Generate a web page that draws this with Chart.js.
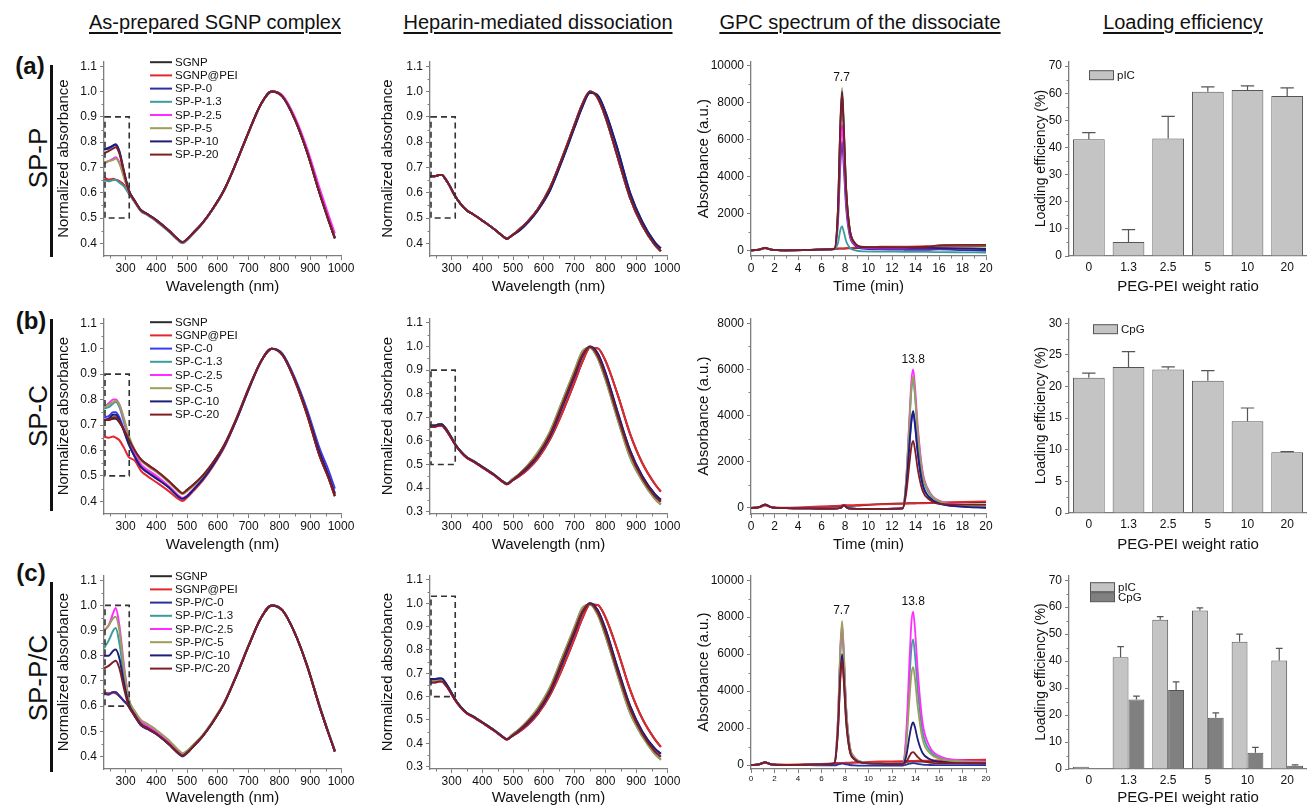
<!DOCTYPE html>
<html><head><meta charset="utf-8">
<script src="https://cdn.jsdelivr.net/npm/chart.js@4.4.1/dist/chart.umd.min.js"></script>
<style>
html,body{margin:0;padding:0;background:#fff;width:1308px;height:808px;overflow:hidden;font-family:"Liberation Sans",Arial,Helvetica,sans-serif;}
canvas{position:absolute;}
.t{position:absolute;color:#111;white-space:nowrap;line-height:1;}
.col{font-size:20px;text-decoration:underline;text-decoration-thickness:1.5px;text-underline-offset:3px;top:12px;transform:translateX(-50%);}
.lab{font-size:24px;font-weight:bold;transform:translate(-50%,-50%);}
.rot{font-size:26px;transform:translate(-50%,-50%) rotate(-90deg);}
.vbar{position:absolute;width:3px;background:#111;}
</style></head><body>
<div class="t col" style="left:215px">As-prepared SGNP complex</div>
<div class="t col" style="left:538px">Heparin-mediated dissociation</div>
<div class="t col" style="left:860px">GPC spectrum of the dissociate</div>
<div class="t col" style="left:1183px">Loading efficiency</div>
<div class="t lab" style="left:30px;top:66px">(a)</div>
<div class="t lab" style="left:31px;top:321px">(b)</div>
<div class="t lab" style="left:31px;top:573px">(c)</div>
<div class="t rot" style="left:38px;top:158px">SP-P</div>
<div class="t rot" style="left:38px;top:416px">SP-C</div>
<div class="t rot" style="left:38px;top:678px">SP-P/C</div>
<div class="vbar" style="left:50px;top:65px;height:192px"></div>
<div class="vbar" style="left:50px;top:319px;height:192px"></div>
<div class="vbar" style="left:50px;top:582px;height:190px"></div>
<script>
// ---------------- DATA ----------------
const namesA = ['SGNP','SGNP@PEI','SP-P-0','SP-P-1.3','SP-P-2.5','SP-P-5','SP-P-10','SP-P-20'];
const namesB = ['SGNP','SGNP@PEI','SP-C-0','SP-C-1.3','SP-C-2.5','SP-C-5','SP-C-10','SP-C-20'];
const namesC = ['SGNP','SGNP@PEI','SP-P/C-0','SP-P/C-1.3','SP-P/C-2.5','SP-P/C-5','SP-P/C-10','SP-P/C-20'];

// wavelength grid (nm) of the as-prepared spectra
const wlPrep = [230,245,260,268,280,295,310,330,350,370,400,440,470,485,500,520,550,580,620,660,700,740,775,810,850,890,930,960,980];
// row (a) as-prepared
const prepA_SGNP = [0.65,0.65,0.65,0.65,0.645,0.63,0.6,0.565,0.53,0.515,0.49,0.45,0.415,0.403,0.415,0.44,0.48,0.53,0.61,0.72,0.84,0.95,1.0,0.98,0.89,0.76,0.6,0.49,0.42];
const prepA_PEI  = [0.662,0.652,0.655,0.652,0.645,0.63,0.6,0.565,0.53,0.515,0.49,0.45,0.415,0.403,0.415,0.44,0.48,0.53,0.61,0.72,0.84,0.95,1.0,0.98,0.89,0.76,0.6,0.49,0.42];
const prepA_0    = [0.77,0.775,0.785,0.79,0.76,0.68,0.612,0.568,0.532,0.517,0.492,0.452,0.417,0.405,0.417,0.442,0.481,0.531,0.611,0.721,0.841,0.951,1.0,0.981,0.892,0.762,0.602,0.492,0.422];
const prepA_13   = [0.65,0.645,0.65,0.65,0.64,0.625,0.598,0.562,0.527,0.512,0.487,0.447,0.412,0.4,0.412,0.438,0.478,0.528,0.608,0.718,0.838,0.948,1.0,0.98,0.89,0.76,0.6,0.49,0.42];
const prepA_25   = [0.715,0.725,0.735,0.74,0.72,0.665,0.605,0.565,0.53,0.515,0.49,0.45,0.415,0.403,0.415,0.44,0.48,0.53,0.61,0.72,0.84,0.95,1.0,0.985,0.9,0.775,0.62,0.51,0.44];
const prepA_5    = [0.72,0.725,0.73,0.735,0.715,0.66,0.605,0.566,0.531,0.516,0.491,0.451,0.416,0.404,0.416,0.44,0.48,0.53,0.61,0.72,0.84,0.95,1.0,0.98,0.89,0.76,0.6,0.49,0.425];
const prepA_10   = [0.772,0.778,0.787,0.792,0.765,0.685,0.612,0.568,0.532,0.517,0.492,0.452,0.417,0.405,0.417,0.442,0.481,0.531,0.611,0.721,0.841,0.951,1.0,0.98,0.89,0.76,0.6,0.49,0.42];
const prepA_20   = [0.755,0.765,0.775,0.78,0.755,0.68,0.61,0.567,0.531,0.516,0.491,0.451,0.416,0.404,0.416,0.441,0.48,0.53,0.61,0.72,0.84,0.95,1.0,0.98,0.89,0.76,0.6,0.49,0.42];
// row (b) as-prepared
const prepB_SGNP = [0.72,0.72,0.725,0.725,0.71,0.68,0.645,0.6,0.565,0.545,0.52,0.48,0.445,0.432,0.445,0.465,0.5,0.545,0.62,0.725,0.845,0.95,1.0,0.975,0.875,0.74,0.58,0.49,0.42];
const prepB_PEI  = [0.655,0.65,0.655,0.65,0.64,0.61,0.575,0.56,0.52,0.5,0.475,0.44,0.41,0.401,0.415,0.44,0.48,0.53,0.61,0.72,0.84,0.95,1.0,0.975,0.875,0.74,0.58,0.49,0.42];
const prepB_0    = [0.73,0.735,0.75,0.75,0.73,0.68,0.63,0.575,0.535,0.515,0.49,0.455,0.42,0.41,0.42,0.445,0.485,0.535,0.615,0.72,0.84,0.95,1.0,0.98,0.885,0.76,0.61,0.52,0.45];
const prepB_13   = [0.765,0.77,0.785,0.79,0.77,0.71,0.645,0.585,0.54,0.52,0.495,0.457,0.422,0.411,0.421,0.446,0.485,0.535,0.615,0.72,0.84,0.95,1.0,0.975,0.88,0.75,0.595,0.5,0.43];
const prepB_25   = [0.77,0.785,0.8,0.8,0.78,0.72,0.65,0.59,0.545,0.525,0.5,0.46,0.425,0.413,0.423,0.447,0.486,0.536,0.615,0.72,0.84,0.95,1.0,0.975,0.88,0.75,0.595,0.5,0.43];
const prepB_5    = [0.77,0.78,0.79,0.795,0.78,0.725,0.66,0.6,0.56,0.54,0.515,0.475,0.44,0.428,0.44,0.46,0.495,0.54,0.618,0.722,0.842,0.95,1.0,0.975,0.878,0.745,0.588,0.495,0.425];
const prepB_10   = [0.72,0.725,0.74,0.74,0.72,0.675,0.625,0.575,0.535,0.515,0.49,0.455,0.42,0.41,0.42,0.445,0.485,0.535,0.615,0.72,0.84,0.95,1.0,0.978,0.88,0.75,0.595,0.5,0.43];
const prepB_20   = [0.72,0.72,0.73,0.73,0.715,0.68,0.645,0.6,0.565,0.545,0.52,0.48,0.445,0.432,0.445,0.465,0.5,0.545,0.62,0.725,0.845,0.95,1.0,0.975,0.875,0.74,0.58,0.49,0.42];
// row (c) as-prepared
const prepC_SGNP = [0.65,0.65,0.655,0.655,0.64,0.62,0.6,0.56,0.525,0.51,0.49,0.45,0.415,0.403,0.415,0.44,0.48,0.53,0.61,0.72,0.84,0.95,1.0,0.98,0.89,0.76,0.6,0.49,0.42];
const prepC_PEI  = [0.655,0.65,0.655,0.65,0.64,0.62,0.6,0.56,0.525,0.51,0.49,0.45,0.415,0.403,0.415,0.44,0.48,0.53,0.61,0.72,0.84,0.95,1.0,0.98,0.89,0.76,0.6,0.49,0.42];
const prepC_0    = [0.65,0.645,0.655,0.655,0.64,0.62,0.6,0.56,0.524,0.509,0.488,0.448,0.413,0.4,0.413,0.44,0.48,0.53,0.61,0.72,0.84,0.95,1.0,0.98,0.89,0.76,0.6,0.49,0.42];
const prepC_13   = [0.83,0.86,0.9,0.91,0.85,0.72,0.62,0.57,0.535,0.52,0.495,0.455,0.42,0.408,0.418,0.443,0.482,0.532,0.612,0.722,0.842,0.95,1.0,0.98,0.89,0.762,0.605,0.495,0.425];
const prepC_25   = [0.9,0.92,0.97,0.99,0.92,0.76,0.63,0.575,0.54,0.522,0.497,0.457,0.421,0.409,0.419,0.444,0.483,0.533,0.612,0.722,0.842,0.95,1.0,0.98,0.89,0.76,0.6,0.49,0.42];
const prepC_5    = [0.9,0.92,0.95,0.955,0.9,0.75,0.63,0.58,0.545,0.53,0.505,0.465,0.428,0.413,0.423,0.447,0.485,0.535,0.614,0.723,0.843,0.95,1.0,0.98,0.89,0.76,0.6,0.49,0.42];
const prepC_10   = [0.8,0.8,0.82,0.825,0.79,0.69,0.61,0.565,0.528,0.513,0.49,0.45,0.415,0.403,0.415,0.44,0.48,0.53,0.61,0.72,0.84,0.95,1.0,0.98,0.89,0.76,0.6,0.49,0.42];
const prepC_20   = [0.75,0.76,0.775,0.78,0.75,0.67,0.6,0.562,0.527,0.512,0.49,0.45,0.415,0.403,0.415,0.44,0.48,0.53,0.61,0.72,0.84,0.95,1.0,0.98,0.89,0.76,0.6,0.49,0.42];

// wavelength grid (nm) of the heparin-treated spectra
const wlHep = [230,245,260,268,280,295,310,330,350,370,400,440,470,480,495,520,550,580,620,660,700,725,750,775,800,840,880,920,960,980];
const hepA_mid   = [0.665,0.665,0.67,0.67,0.655,0.625,0.59,0.555,0.53,0.515,0.49,0.455,0.425,0.418,0.43,0.455,0.49,0.535,0.62,0.74,0.87,0.95,1.0,0.975,0.9,0.74,0.58,0.47,0.395,0.37];
const hepA_right = [0.665,0.665,0.67,0.67,0.655,0.625,0.59,0.555,0.53,0.515,0.49,0.455,0.425,0.418,0.43,0.45,0.485,0.53,0.61,0.73,0.86,0.94,0.995,0.985,0.92,0.77,0.6,0.485,0.405,0.38];
const hepB_760   = [0.66,0.66,0.665,0.665,0.65,0.62,0.588,0.553,0.528,0.513,0.488,0.453,0.423,0.416,0.43,0.45,0.482,0.525,0.607,0.72,0.85,0.935,0.995,0.992,0.94,0.795,0.63,0.505,0.418,0.385];
const hepB_745   = [0.665,0.665,0.67,0.67,0.655,0.625,0.59,0.555,0.53,0.515,0.49,0.455,0.425,0.418,0.43,0.455,0.49,0.535,0.62,0.745,0.875,0.96,1.0,0.97,0.89,0.72,0.56,0.45,0.375,0.35];
const hepB_740   = [0.66,0.66,0.665,0.665,0.65,0.622,0.588,0.553,0.528,0.513,0.488,0.453,0.423,0.416,0.43,0.457,0.495,0.54,0.628,0.755,0.885,0.965,0.998,0.96,0.875,0.705,0.548,0.44,0.366,0.342];
const hepB_735   = [0.665,0.665,0.67,0.67,0.655,0.625,0.59,0.555,0.53,0.515,0.49,0.455,0.425,0.418,0.435,0.46,0.5,0.55,0.64,0.77,0.9,0.98,0.995,0.95,0.86,0.69,0.53,0.43,0.355,0.33];
const hepC_760   = [0.665,0.665,0.67,0.67,0.655,0.622,0.59,0.553,0.528,0.513,0.488,0.453,0.423,0.416,0.43,0.45,0.482,0.525,0.607,0.72,0.85,0.935,0.995,0.992,0.94,0.795,0.63,0.505,0.418,0.385];
const hepC_745   = [0.675,0.675,0.678,0.678,0.66,0.628,0.592,0.556,0.53,0.515,0.49,0.455,0.425,0.418,0.43,0.455,0.49,0.535,0.62,0.745,0.875,0.96,1.0,0.97,0.89,0.72,0.56,0.45,0.378,0.355];
const hepC_740   = [0.66,0.66,0.665,0.665,0.65,0.622,0.588,0.553,0.528,0.513,0.488,0.453,0.423,0.416,0.43,0.457,0.495,0.54,0.628,0.755,0.885,0.965,0.998,0.96,0.875,0.705,0.548,0.44,0.366,0.342];
const hepC_735   = [0.665,0.665,0.67,0.67,0.655,0.625,0.59,0.555,0.53,0.515,0.49,0.455,0.425,0.418,0.435,0.46,0.5,0.55,0.64,0.77,0.9,0.98,0.995,0.95,0.86,0.69,0.53,0.43,0.355,0.33];

// GPC time grids (min) and traces
const tA = [0,0.7,1.2,1.7,3,5,6.5,7.1,7.4,7.6,7.75,7.9,8.1,8.4,8.8,9.5,11,13,15,16,18,20];
const gpcA_SGNP = [0,40,130,40,10,30,60,80,90,100,100,100,110,120,130,140,160,170,180,200,210,220];
const gpcA_PEI  = [0,40,120,40,10,30,70,100,110,110,110,110,120,130,150,180,200,210,230,260,280,280];
const gpcA_0    = [0,50,140,50,10,30,50,80,1500,4600,5900,4500,2300,800,300,100,60,40,30,60,20,-20];
const gpcA_13   = [0,50,140,50,10,30,50,60,400,1100,1300,1000,500,150,20,-50,-60,-70,-80,-90,-100,-110];
const gpcA_25   = [0,50,140,50,10,30,50,80,1800,5300,6800,5200,2700,950,350,150,120,110,110,120,100,80];
const gpcA_5    = [0,50,150,50,10,30,60,90,2300,6900,8800,6800,3400,1200,450,200,180,190,200,260,270,270];
const gpcA_10   = [0,50,140,50,10,30,60,90,2200,6700,8600,6600,3300,1150,420,180,160,150,140,130,100,80];
const gpcA_20   = [0,50,140,50,10,30,60,90,2200,6600,8500,6500,3300,1150,430,190,180,180,200,280,300,300];
const tB = [0,0.7,1.2,1.7,3,5,7,7.6,7.9,8.3,9,11,12.9,13.2,13.5,13.65,13.8,13.95,14.2,14.6,15.2,16,18,20];
const gpcB_SGNP = [0,40,150,40,0,20,60,80,120,90,100,170,200,200,210,210,210,210,215,220,225,230,240,250];
const gpcB_PEI  = [0,30,100,40,20,50,90,100,130,120,130,160,180,185,190,190,195,195,200,205,215,230,260,290];
const gpcB_0    = [0,40,140,40,-10,-20,-30,0,110,-20,-40,-40,-20,800,2800,3700,4100,3600,2300,1000,450,200,60,20];
const gpcB_13   = [0,40,140,40,-10,-20,-30,0,100,-20,-40,-40,-20,1100,3800,5100,5600,4900,3200,1400,600,270,100,60];
const gpcB_25   = [0,40,140,40,-10,-20,-30,0,100,-20,-40,-40,-20,1200,4100,5500,6000,5300,3500,1600,700,320,140,100];
const gpcB_5    = [0,40,140,40,-10,-20,-30,0,100,-20,-40,-40,-20,1150,3900,5200,5700,5000,3300,1500,650,300,120,80];
const gpcB_10   = [0,40,150,40,-10,-20,-30,0,110,-20,-40,-40,-20,850,2900,3800,4200,3700,2400,1050,450,200,60,10];
const gpcB_20   = [0,40,140,40,-10,-20,-30,0,100,-20,-40,-40,-20,600,2000,2650,2900,2550,1650,750,350,180,150,150];
const tC = [0,0.7,1.2,1.7,3,5,6.8,7.1,7.4,7.6,7.75,7.9,8.1,8.4,8.8,9.5,11,12.9,13.2,13.5,13.65,13.8,13.95,14.2,14.6,15.2,16,18,20];
const gpcC_SGNP = [0,40,150,40,10,30,60,80,90,100,100,100,110,120,130,140,160,170,175,180,180,180,180,185,190,195,200,210,220];
const gpcC_PEI  = [0,40,120,40,20,50,90,110,120,120,120,120,125,130,140,160,190,210,215,220,220,220,225,230,235,240,250,270,290];
const gpcC_0    = [0,40,140,40,0,-10,-20,-20,20,60,80,60,30,0,-20,-30,-30,-30,20,70,90,100,90,60,20,0,-10,-10,-10];
const gpcC_13   = [0,40,140,40,0,20,50,100,2400,6000,7400,5800,3000,1000,400,150,80,60,1300,4800,6300,6800,6000,4000,1800,800,400,200,150];
const gpcC_25   = [0,40,140,40,0,20,50,100,2500,6200,7600,6000,3100,1050,420,160,100,80,1600,5800,7700,8300,7400,5000,2300,1000,500,250,200];
const gpcC_5    = [0,40,140,40,0,20,50,100,2500,6300,7800,6100,3100,1050,420,160,100,80,1000,3700,4900,5300,4700,3100,1400,650,350,200,150];
const gpcC_10   = [0,40,140,40,0,20,50,90,1900,4800,6000,4700,2400,800,320,120,70,50,450,1600,2100,2300,2050,1350,650,320,170,100,80];
const gpcC_20   = [0,40,140,40,0,20,50,90,1800,4600,5700,4500,2300,770,300,120,70,50,150,500,650,700,620,420,220,130,100,100,100];
// peak labels (min) and their heights
const peakTimesA = [7.7];       const peakTopsA = [8800];
const peakTimesB = [13.8];      const peakTopsB = [6000];
const peakTimesC = [7.7, 13.8]; const peakTopsC = [7800, 8300];

// loading efficiency (%)
const ratios = ['0','1.3','2.5','5','10','20'];
const leA_pIC = [43.0, 5.2, 43.3, 60.5, 61.2, 59.0];
const leA_pIC_err = [2.5, 4.5, 8.2, 1.8, 1.5, 3.0];
const leB_CpG = [21.4, 23.1, 22.7, 20.9, 14.5, 9.6];
const leB_CpG_err = [0.7, 2.4, 0.4, 1.6, 2.1, 0.1];
const leC_pIC = [0.8, 41.4, 55.3, 58.8, 47.2, 40.2];
const leC_pIC_err = [0, 4.0, 1.2, 0.9, 2.8, 4.5];
const leC_CpG = [0.3, 25.8, 29.3, 19.0, 6.0, 1.2];
const leC_CpG_err = [0, 1.2, 3.0, 1.8, 2.0, 0.3];

// tick values
const wlTicks = [300,400,500,600,700,800,900,1000];
const wlMinor = [250,350,450,550,650,750,850,950];
const absTicks04 = [0.4,0.5,0.6,0.7,0.8,0.9,1.0,1.1];
const absTicks03 = [0.3,0.4,0.5,0.6,0.7,0.8,0.9,1.0,1.1];
const absMinor = [0.45,0.55,0.65,0.75,0.85,0.95,1.05];
const absMinor03 = [0.35,0.45,0.55,0.65,0.75,0.85,0.95,1.05];
const timeTicks = [0,2,4,6,8,10,12,14,16,18,20];
const timeMinor = [1,3,5,7,9,11,13,15,17,19];
const gpcTicks10k = [0,2000,4000,6000,8000,10000];
const gpcMinor10k = [1000,3000,5000,7000,9000];
const gpcTicks8k = [0,2000,4000,6000,8000];
const gpcMinor8k = [1000,3000,5000,7000];
const leTicks70 = [0,10,20,30,40,50,60,70];
const leMinor70 = [5,15,25,35,45,55,65];
const leTicks30 = [0,5,10,15,20,25,30];
const leMinor30 = [2.5,7.5,12.5,17.5,22.5,27.5];

// ---------------- STYLE ----------------
const FONT = '"Liberation Sans", Arial, Helvetica, sans-serif';
const AX = '#7d7d7d';
const INK = '#111';
const colorsA = ['#2b2b2b','#e5262c','#2b2f9e','#3a9d9d','#ff2dff','#9d9d5c','#1d1d7a','#7f1e22'];
const colorsB = ['#2b2b2b','#e5262c','#3a3af0','#3a9d9d','#ff2dff','#9d9d5c','#1d1d7a','#7f1e22'];
const pICfill = '#c4c4c4', CpGfill = '#808080', barEdge = '#555';

Chart.defaults.font.family = FONT;
Chart.defaults.color = INK;

function overlay(o) {
  return { id: 'ov', afterDatasetsDraw(chart) {
    const ctx = chart.ctx, a = chart.chartArea, sx = chart.scales.x, sy = chart.scales.y;
    ctx.save();
    ctx.strokeStyle = AX; ctx.lineWidth = 1;
    (o.minorX || []).forEach(v => { const p = Math.round(sx.getPixelForValue(v)) + 0.5;
      ctx.beginPath(); ctx.moveTo(p, a.bottom); ctx.lineTo(p, a.bottom + 2.5); ctx.stroke(); });
    (o.minorY || []).forEach(v => { const p = Math.round(sy.getPixelForValue(v)) + 0.5;
      ctx.beginPath(); ctx.moveTo(a.left, p); ctx.lineTo(a.left - 2.5, p); ctx.stroke(); });
    if (o.box) {
      const x0 = sx.getPixelForValue(o.box[0]), x1 = sx.getPixelForValue(o.box[1]);
      const y0 = sy.getPixelForValue(o.box[2]), y1 = sy.getPixelForValue(o.box[3]);
      ctx.setLineDash([6, 4]); ctx.strokeStyle = '#333'; ctx.lineWidth = 1.6;
      ctx.strokeRect(x0 + 1, y1, x1 - x0 - 1, y0 - y1);
      ctx.setLineDash([]);
    }
    if (o.legend) {
      ctx.font = '11.5px ' + FONT; ctx.textBaseline = 'middle'; ctx.textAlign = 'left';
      chart.data.datasets.forEach((d, i) => {
        const x = a.left + o.legend.dx, y = a.top + o.legend.dy + i * 13.2;
        ctx.strokeStyle = d.borderColor; ctx.lineWidth = 2;
        ctx.beginPath(); ctx.moveTo(x, y); ctx.lineTo(x + 22, y); ctx.stroke();
        ctx.fillStyle = INK; ctx.fillText(d.label, x + 25, y + 0.5);
      });
    }
    if (o.peaks) {
      ctx.font = '12px ' + FONT; ctx.textAlign = 'center'; ctx.textBaseline = 'bottom'; ctx.fillStyle = INK;
      o.peaks.t.forEach((t, i) => ctx.fillText(t.toFixed(1), sx.getPixelForValue(t), sy.getPixelForValue(o.peaks.h[i]) - 4));
    }
    if (o.errors) {
      ctx.strokeStyle = barEdge; ctx.lineWidth = 1.2;
      o.errors.forEach((errs, di) => {
        const meta = chart.getDatasetMeta(di), vals = chart.data.datasets[di].data;
        meta.data.forEach((el, j) => {
          if (!errs[j]) return;
          const top = sy.getPixelForValue(vals[j] + errs[j]);
          const cw = el.width * 0.42;
          ctx.beginPath(); ctx.moveTo(el.x, el.y); ctx.lineTo(el.x, top);
          ctx.moveTo(el.x - cw / 2, top); ctx.lineTo(el.x + cw / 2, top); ctx.stroke();
        });
      });
    }
    if (o.barLegend) {
      ctx.font = '11.5px ' + FONT; ctx.textBaseline = 'middle'; ctx.textAlign = 'left';
      chart.data.datasets.forEach((d, i) => {
        const x = a.left + o.barLegend.dx, y = a.top + o.barLegend.dy + i * 10;
        ctx.fillStyle = d.backgroundColor; ctx.fillRect(x, y - 4.5, 24, 9);
        ctx.strokeStyle = barEdge; ctx.lineWidth = 1; ctx.strokeRect(x + 0.5, y - 4.5, 24, 9);
        ctx.fillStyle = INK; ctx.fillText(d.label, x + 28, y + 0.5);
      });
    }
    ctx.restore();
  }};
}

function linScale(min, max, ticks, fmt, title, tickFont, isY, titleSize) {
  return {
    type: 'linear', min, max,
    afterBuildTicks: s => { s.ticks = ticks.map(v => ({ value: v })); },
    ticks: { callback: fmt, font: { size: tickFont }, color: INK, padding: isY ? 3 : 1, maxRotation: 0, autoSkip: false },
    grid: { display: true, drawOnChartArea: false, drawTicks: true, tickLength: 4, color: AX, tickColor: AX, tickWidth: 1 },
    border: { display: true, color: AX, width: 1.3 },
    title: { display: true, text: title, color: INK, font: { size: titleSize || 15 },
             padding: isY ? { top: 4, bottom: 0 } : { top: 0, bottom: 0 } }
  };
}

function makeChart(g, config, ov) {
  const c = document.createElement('canvas');
  const W = (g.r - g.l) + g.yw + g.pr, H = (g.b - g.t) + 10 + g.xh;
  c.width = W; c.height = H;
  c.style.left = (g.l - g.yw) + 'px'; c.style.top = (g.t - 10) + 'px';
  c.style.width = W + 'px'; c.style.height = H + 'px';
  document.body.appendChild(c);
  const o = config.options;
  o.responsive = false; o.animation = false; o.devicePixelRatio = 1; o.events = [];
  o.layout = { padding: { top: 10, right: g.pr, left: 0, bottom: 0 } };
  o.plugins = { legend: { display: false }, tooltip: { enabled: false } };
  o.scales.x.afterFit = s => { s.height = g.xh; };
  o.scales.y.afterFit = s => { s.width = g.yw; };
  config.plugins = [overlay(ov)];
  return new Chart(c, config);
}

function lineSets(xArr, series, names, colors, width) {
  return series.map((ys, i) => ({
    label: names[i], data: xArr.map((x, k) => ({ x, y: ys[k] })),
    borderColor: colors[i], backgroundColor: colors[i], borderWidth: width,
    pointRadius: 0, cubicInterpolationMode: 'monotone', fill: false, order: -i
  }));
}

const f1 = v => v.toFixed(1), fS = v => String(v);

// geometry of the panels
const rows = [ {t: 61, b: 256, xh: 40}, {t: 318, b: 514, xh: 40}, {t: 575, b: 769, xh: 38} ];
const cols = [ {l: 104, r: 341, yw: 53, pr: 16}, {l: 430, r: 667, yw: 55, pr: 16},
               {l: 751, r: 986, yw: 60, pr: 16}, {l: 1069, r: 1307, yw: 40, pr: 0} ];
const geo = (ri, ci) => Object.assign({}, rows[ri], cols[ci]);

// ---- column 1: as-prepared spectra
const prepSets = [
  [prepA_SGNP, prepA_PEI, prepA_0, prepA_13, prepA_25, prepA_5, prepA_10, prepA_20],
  [prepB_SGNP, prepB_PEI, prepB_0, prepB_13, prepB_25, prepB_5, prepB_10, prepB_20],
  [prepC_SGNP, prepC_PEI, prepC_0, prepC_13, prepC_25, prepC_5, prepC_10, prepC_20]];
const allNames = [namesA, namesB, namesC];
const allColors = [colorsA, colorsB, colorsA];
const prepBoxes = [[230, 312, 0.5, 0.9], [230, 312, 0.5, 0.9], [230, 312, 0.6, 1.0]];
const legendDy = [1, 4, 1];
for (let r = 0; r < 3; r++) {
  makeChart(geo(r, 0), { type: 'line',
    data: { datasets: lineSets(wlPrep, prepSets[r], allNames[r], allColors[r], 2) },
    options: { scales: {
      x: linScale(230, 1000, wlTicks, fS, 'Wavelength (nm)', 12, false),
      y: linScale(0.35, 1.12, absTicks04, f1, 'Normalized absorbance', 12, true) } } },
    { minorX: wlMinor, minorY: absMinor, box: prepBoxes[r], legend: { dx: 46, dy: legendDy[r] } });
}

// ---- column 2: heparin-mediated dissociation
const hepSets = [
  [hepA_mid, hepA_mid, hepA_right, hepA_mid, hepA_mid, hepA_mid, hepA_right, hepA_mid],
  [hepB_760, hepB_760, hepB_745, hepB_735, hepB_740, hepB_735, hepB_745, hepB_740],
  [hepC_760, hepC_760, hepC_745, hepC_735, hepC_740, hepC_735, hepC_745, hepC_740]];
const hepYmin = [0.35, 0.29, 0.29];
const hepTicks = [absTicks04, absTicks03, absTicks03];
const hepMinor = [absMinor, absMinor03, absMinor03];
const hepBoxes = [[230, 312, 0.5, 0.9], [230, 312, 0.5, 0.9], [230, 312, 0.6, 1.03]];
for (let r = 0; r < 3; r++) {
  makeChart(geo(r, 1), { type: 'line',
    data: { datasets: lineSets(wlHep, hepSets[r], allNames[r], allColors[r], 2) },
    options: { scales: {
      x: linScale(230, 1000, wlTicks, fS, 'Wavelength (nm)', 12, false),
      y: linScale(hepYmin[r], 1.12, hepTicks[r], f1, 'Normalized absorbance', 12, true) } } },
    { minorX: wlMinor, minorY: hepMinor[r], box: hepBoxes[r] });
}

// ---- column 3: GPC
const gpcT = [tA, tB, tC];
const gpcSets = [
  [gpcA_SGNP, gpcA_PEI, gpcA_0, gpcA_13, gpcA_25, gpcA_5, gpcA_10, gpcA_20],
  [gpcB_SGNP, gpcB_PEI, gpcB_0, gpcB_13, gpcB_25, gpcB_5, gpcB_10, gpcB_20],
  [gpcC_SGNP, gpcC_PEI, gpcC_0, gpcC_13, gpcC_25, gpcC_5, gpcC_10, gpcC_20]];
const gpcRange = [[-300, 10250], [-260, 8216], [-216, 10270]];
const gpcTk = [gpcTicks10k, gpcTicks8k, gpcTicks10k];
const gpcMn = [gpcMinor10k, gpcMinor8k, gpcMinor10k];
const gpcPeaks = [{ t: peakTimesA, h: peakTopsA }, { t: peakTimesB, h: peakTopsB }, { t: peakTimesC, h: peakTopsC }];
const timeFont = [12, 12, 8];
for (let r = 0; r < 3; r++) {
  makeChart(geo(r, 2), { type: 'line',
    data: { datasets: lineSets(gpcT[r], gpcSets[r], allNames[r], allColors[r], 1.8) },
    options: { scales: {
      x: linScale(0, 20, timeTicks, fS, 'Time (min)', timeFont[r], false),
      y: linScale(gpcRange[r][0], gpcRange[r][1], gpcTk[r], fS, 'Absorbance (a.u.)', 12, true) } } },
    { minorX: timeMinor, minorY: gpcMn[r], peaks: gpcPeaks[r] });
}

// ---- column 4: loading efficiency
function barScales(max, ticks) {
  const y = linScale(0, max, ticks, fS, 'Loading efficiency (%)', 12, true, 14);
  const x = { type: 'category',
    ticks: { font: { size: 12 }, color: INK, padding: 4, maxRotation: 0, autoSkip: false },
    grid: { display: false, drawTicks: false },
    border: { display: true, color: AX, width: 1.3 },
    title: { display: true, text: 'PEG-PEI weight ratio', color: INK, font: { size: 15 }, padding: { top: 0, bottom: 0 } } };
  return { x, y };
}
const barDs = (label, data, fill) => ({ label, data, backgroundColor: fill, borderColor: barEdge, borderWidth: 1,
  categoryPercentage: 0.8, barPercentage: 1.0 });
const gA = geo(0, 3); gA.b = 256;
makeChart(gA, { type: 'bar', data: { labels: ratios, datasets: [barDs('pIC', leA_pIC, pICfill)] },
  options: { scales: barScales(71.8, leTicks70) } },
  { minorY: leMinor70, errors: [leA_pIC_err], barLegend: { dx: 20, dy: 14 } });
const gB = geo(1, 3); gB.b = 513; gB.xh = 41;
makeChart(gB, { type: 'bar', data: { labels: ratios, datasets: [barDs('CpG', leB_CpG, pICfill)] },
  options: { scales: barScales(30.8, leTicks30) } },
  { minorY: leMinor30, errors: [leB_CpG_err], barLegend: { dx: 24, dy: 11 } });
makeChart(geo(2, 3), { type: 'bar', data: { labels: ratios,
    datasets: [barDs('pIC', leC_pIC, pICfill), barDs('CpG', leC_CpG, CpGfill)] },
  options: { scales: barScales(71.85, leTicks70) } },
  { minorY: leMinor70, errors: [leC_pIC_err, leC_CpG_err], barLegend: { dx: 21, dy: 12 } });
</script>
</body></html>
